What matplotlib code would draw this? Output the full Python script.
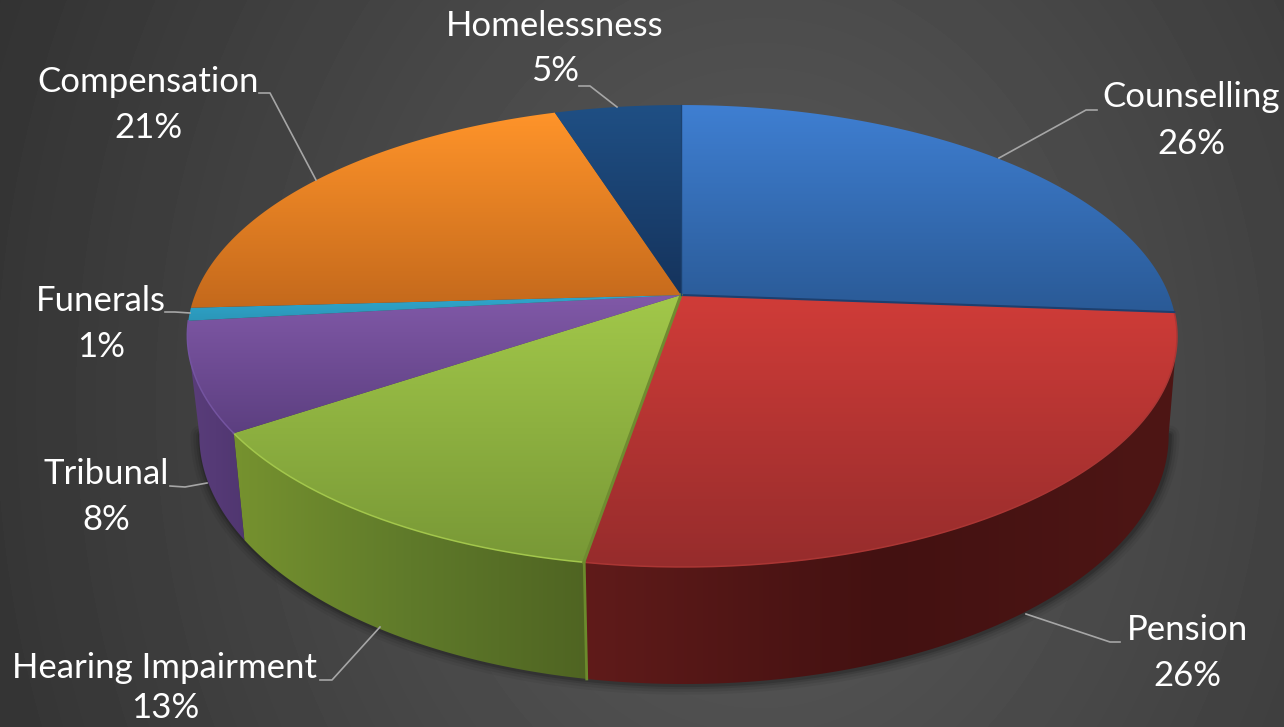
import numpy as np
import matplotlib
matplotlib.use("Agg")
import matplotlib.pyplot as plt
from matplotlib.patches import Polygon
from matplotlib.colors import LinearSegmentedColormap

# ---------- data ----------
categories = ["Counselling", "Pension", "Hearing Impairment", "Tribunal",
              "Funerals", "Compensation", "Homelessness"]
values = [26.2, 26.49, 12.91, 7.6, 0.9, 21.0, 4.9]

# ---------- style ----------
top_colors = {"Counselling": ("#3f7fd2", "#2a5a96"),
              "Pension": ("#d03c38", "#962c2c"),
              "Hearing Impairment": ("#a2c84a", "#789836"),
              "Tribunal": ("#8159a8", "#5c3f80"),
              "Funerals": ("#2fa6cc", "#2b96b8"),
              "Compensation": ("#ff942a", "#c4691c"),
              "Homelessness": ("#1f4f84", "#15335c")}
# left, middle, right
wall_colors = {"Pension": ("#601b1a", "#431111", "#4e1615"),
               "Hearing Impairment": ("#76922f", "#5f7a2a", "#4f6422"),
               "Tribunal": ("#5a3d7a", "#553a76", "#503670")}
rim_colors = {"Hearing Impairment": "#a3c74c", "Pension": "#ab3634",
              "Tribunal": "#7454a0"}
text_pos = {"Counselling": (1191, 97, 144), "Pension": (1187, 630, 676),
            "Hearing Impairment": (165, 668, 708), "Tribunal": (106, 474, 520),
            "Funerals": (101, 301, 347), "Compensation": (148, 82, 128),
            "Homelessness": (555, 26, 71)}
leaders = {"Counselling": [(999, 158), (1086, 110), (1097, 110)],
           "Pension": [(1026, 614), (1110, 642), (1120, 642)],
           "Hearing Impairment": [(380, 627), (332, 680), (320, 680)],
           "Tribunal": [(207, 483), (185, 487), (170, 486)],
           "Funerals": [(190, 313), (175, 312), (165, 312)],
           "Compensation": [(316, 180), (270, 93), (259, 93)],
           "Homelessness": [(617, 107), (590, 86), (579, 86)]}

W, H = 1284, 727
fig = plt.figure(figsize=(W / 100, H / 100), dpi=100)
ax = fig.add_axes([0, 0, 1, 1])
ax.axis("off")

# background
yy, xx = np.mgrid[0:H, 0:W]
r = np.sqrt((0.05 * (xx - 760)) ** 2 + (0.04 * (yy - 400)) ** 2)
g = np.clip((92 - r) / 255, 0.17, 1)
ax.imshow(g, cmap="gray", vmin=0, vmax=1, extent=(0, W, H, 0), aspect="auto",
          interpolation="bilinear", zorder=0)

# projection of the unit disc (perspective)
CX, CY = 681, 295
P, A, B = 0.1775, 487, 223.7
CX2, CY2, A2, B2 = 684, 391, 477, 241


def top(th):
    u, v = np.sin(th), np.cos(th)
    d = 1 + P * v
    return CX + A * u / d + (1 - v), CY - B * v / d


def bottom(th):
    u, v = np.sin(th), np.cos(th)
    d = 1 + P * v
    return CX2 + A2 * u / d, CY2 - B2 * v / d


def gradient(poly, colors, vertical=True, z=2):
    pts = np.asarray(poly)
    cm = LinearSegmentedColormap.from_list("c", colors)
    x0, x1, y0, y1 = pts[:, 0].min(), pts[:, 0].max(), pts[:, 1].min(), pts[:, 1].max()
    ramp = np.linspace(0, 1, 256)
    arr = ramp[:, None] if vertical else ramp[None, :]
    im = ax.imshow(arr, cmap=cm, vmin=0, vmax=1, extent=(x0, x1, y1, y0),
                   aspect="auto", interpolation="bilinear", zorder=z)
    patch = Polygon(pts, closed=True, transform=ax.transData, fc="none", ec="none")
    ax.add_patch(patch)
    im.set_clip_path(patch)


fracs = np.array(values) / sum(values)
edges = np.concatenate([[0], np.cumsum(fracs)]) * 2 * np.pi
WALL_A, WALL_B = np.radians(100), np.radians(260)

# soft shadow around the base
ths = np.linspace(WALL_A, WALL_B, 300)
bx, by = bottom(ths)
for lw, al in [(14, 0.05), (10, 0.07), (6, 0.10), (3, 0.14)]:
    ax.plot(bx + 1, by + 1, color="black", lw=lw, alpha=al, zorder=1, solid_capstyle="round")

# side walls
for i, name in enumerate(categories):
    a, b = max(edges[i], WALL_A), min(edges[i + 1], WALL_B)
    if b <= a or name not in wall_colors:
        continue
    t = np.linspace(a, b, 120)
    tx, ty = top(t)
    ux, uy = bottom(t)
    poly = np.column_stack([np.r_[tx, ux[::-1]], np.r_[ty, uy[::-1]]])
    gradient(poly, list(wall_colors[name]), vertical=False, z=2)

# top surface
for i, name in enumerate(categories):
    t = np.linspace(edges[i], edges[i + 1], 160)
    tx, ty = top(t)
    poly = np.column_stack([np.r_[CX, tx], np.r_[CY, ty]])
    gradient(poly, list(top_colors[name]), z=3)
    if name in rim_colors:
        ax.plot(tx, ty, color=rim_colors[name], lw=1.1, zorder=4)

# wedge edge accents
ex, ey = top(edges[1])
ax.plot([CX, ex], [CY, ey], color="#1d3f6e", lw=1.5, zorder=5)
ex, ey = top(edges[2])
ax.plot([CX, ex], [CY, ey], color="#6f8c30", lw=2.2, zorder=5)
ux, uy = bottom(edges[2])
ax.plot([ex + 0.5, ux], [ey, uy], color="#6b8a2c", lw=2.0, zorder=5)
ex, ey = top(edges[0])
ax.plot([CX, ex], [CY, ey], color="#1c4270", lw=1.0, zorder=5)

# labels and leader lines
total = sum(values)
for name, val in zip(categories, values):
    xs, ys = zip(*leaders[name])
    ax.plot(xs, ys, color="#a6a6a6", lw=1.2, zorder=6)
    x, y1, y2 = text_pos[name]
    ax.text(x, y1, name, color="white", family="Lato", fontsize=25, ha="center", va="center", zorder=7)
    ax.text(x, y2, f"{val / total * 100:.0f}%", color="white", family="Lato", fontsize=25,
            ha="center", va="center", zorder=7)

ax.set_xlim(0, W)
ax.set_ylim(H, 0)
fig.savefig("out.png", dpi=100)
